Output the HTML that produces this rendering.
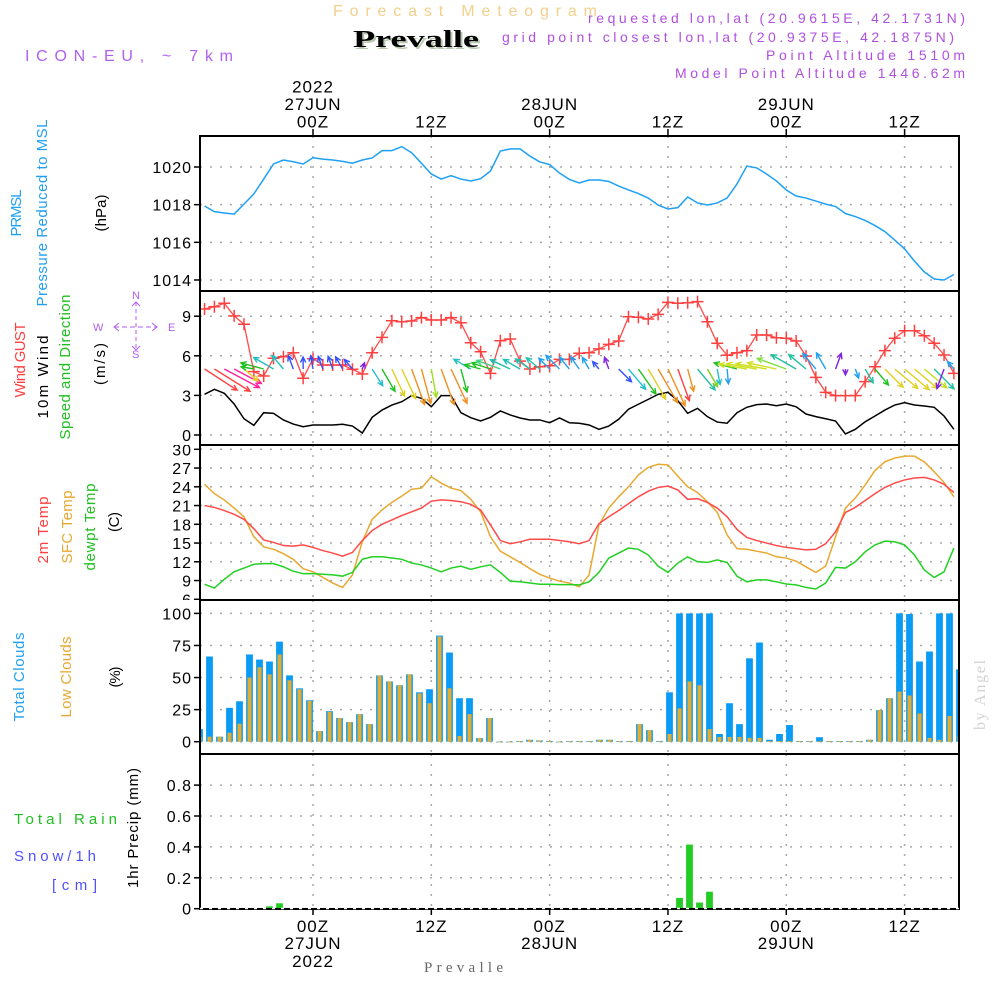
<!DOCTYPE html>
<html><head><meta charset="utf-8"><title>Forecast Meteogram Prevalle</title>
<style>
html,body{margin:0;padding:0;background:#fff;}
svg{display:block;font-family:"Liberation Sans",sans-serif;}
</style></head>
<body>
<svg id="chart" xmlns="http://www.w3.org/2000/svg" width="1000" height="1000" viewBox="0 0 1000 1000">
<defs>
<clipPath id="cpP"><rect x="200" y="136" width="759" height="155"/></clipPath>
<clipPath id="cpW"><rect x="200" y="291" width="759" height="154"/></clipPath>
<clipPath id="cpT"><rect x="200" y="445" width="759" height="155"/></clipPath>
<clipPath id="cpC"><rect x="200" y="600" width="759" height="154"/></clipPath>
<clipPath id="cpR"><rect x="200" y="754" width="759" height="155"/></clipPath>
<clipPath id="cpTL"><rect x="100" y="445" width="100" height="155"/></clipPath>
</defs>
<!-- header -->
<text x="333" y="16" font-size="16" fill="#f3cf8c" textLength="264" lengthAdjust="spacing">Forecast Meteogram</text>
<text x="355" y="49" font-family="Liberation Serif,serif" font-weight="bold" font-size="24" fill="#b8c8b0" textLength="126" lengthAdjust="spacingAndGlyphs">Prevalle</text>
<text x="353" y="47" font-family="Liberation Serif,serif" font-weight="bold" font-size="24" fill="#000" textLength="126" lengthAdjust="spacingAndGlyphs">Prevalle</text>
<text x="25" y="61" font-size="16" fill="#b060f0" textLength="208" lengthAdjust="spacing">ICON-EU, ~ 7km</text>
<text x="965" y="23" font-size="14" fill="#b050e0" text-anchor="end" textLength="377" lengthAdjust="spacing">requested lon,lat (20.9615E, 42.1731N)</text>
<text x="954" y="42" font-size="14" fill="#b050e0" text-anchor="end" textLength="452" lengthAdjust="spacing">grid point closest lon,lat (20.9375E, 42.1875N)</text>
<text x="965" y="60" font-size="14" fill="#b050e0" text-anchor="end" textLength="199" lengthAdjust="spacing">Point Altitude 1510m</text>
<text x="965" y="78" font-size="14" fill="#b050e0" text-anchor="end" textLength="290" lengthAdjust="spacing">Model Point Altitude 1446.62m</text>

<!-- left axis titles -->
<g font-size="15">
<text transform="translate(21,213) rotate(-90)" text-anchor="middle" fill="#20a0f0" textLength="47" lengthAdjust="spacing">PRMSL</text>
<text transform="translate(47,213) rotate(-90)" text-anchor="middle" fill="#20a0f0" textLength="187" lengthAdjust="spacing">Pressure Reduced to MSL</text>
<text transform="translate(106,213) rotate(-90)" text-anchor="middle" fill="#000" textLength="37" lengthAdjust="spacing">(hPa)</text>
<text transform="translate(25,360) rotate(-90)" text-anchor="middle" fill="#ff4040" textLength="75" lengthAdjust="spacing">Wind GUST</text>
<text transform="translate(48,377) rotate(-90)" text-anchor="middle" fill="#000" textLength="83" lengthAdjust="spacing">10m Wind</text>
<text transform="translate(70,367) rotate(-90)" text-anchor="middle" fill="#20c020" textLength="145" lengthAdjust="spacing">Speed and Direction</text>
<text transform="translate(105,364) rotate(-90)" text-anchor="middle" fill="#000" textLength="42" lengthAdjust="spacing">(m/s)</text>
<text transform="translate(48,530) rotate(-90)" text-anchor="middle" fill="#ff4040" textLength="67" lengthAdjust="spacing">2m Temp</text>
<text transform="translate(72,527) rotate(-90)" text-anchor="middle" fill="#e8a830" textLength="73" lengthAdjust="spacing">SFC Temp</text>
<text transform="translate(95,527) rotate(-90)" text-anchor="middle" fill="#20c020" textLength="87" lengthAdjust="spacing">dewpt Temp</text>
<text transform="translate(119,522) rotate(-90)" text-anchor="middle" fill="#000" textLength="20" lengthAdjust="spacing">(C)</text>
<text transform="translate(24,677) rotate(-90)" text-anchor="middle" fill="#20a0f0" textLength="89" lengthAdjust="spacing">Total Clouds</text>
<text transform="translate(71,677) rotate(-90)" text-anchor="middle" fill="#e8a830" textLength="81" lengthAdjust="spacing">Low Clouds</text>
<text transform="translate(120,677) rotate(-90)" text-anchor="middle" fill="#000" textLength="21" lengthAdjust="spacing">(%)</text>
<text transform="translate(138,828) rotate(-90)" text-anchor="middle" fill="#000" textLength="120" lengthAdjust="spacing">1hr Precip (mm)</text>
<text x="14" y="824" fill="#20c020" textLength="103" lengthAdjust="spacing">Total   Rain</text>
<text x="14" y="861" fill="#5050ff" textLength="82" lengthAdjust="spacing">Snow/1h</text>
<text x="52" y="890" fill="#5050ff" textLength="45" lengthAdjust="spacing">[cm]</text>
</g>
<!-- compass -->
<g fill="#b060f0" stroke="#b060f0" font-size="11">
<text x="132" y="299" stroke="none">N</text>
<text x="132" y="358" stroke="none">S</text>
<text x="93" y="331" stroke="none">W</text>
<text x="168" y="331" stroke="none">E</text>
<line x1="114" y1="327" x2="157" y2="327" stroke-dasharray="5,3"/>
<line x1="136" y1="302" x2="136" y2="350" stroke-dasharray="4,3"/>
<polyline points="119,323 114,327 119,331" fill="none"/>
<polyline points="152,323 157,327 152,331" fill="none"/>
<polyline points="132,306 136,302 140,306" fill="none"/>
<polyline points="132,346 136,350 140,346" fill="none"/>
</g>
<text transform="translate(985,730) rotate(-90)" font-family="Liberation Serif,serif" font-size="16" fill="#d0d4d0" textLength="70" lengthAdjust="spacing">by Angel</text>
<text x="424" y="972" font-family="Liberation Serif,serif" font-size="15" fill="#666" textLength="79" lengthAdjust="spacing">Prevalle</text>

<g id="grid"></g>
<g id="marks"></g>
<g id="axes"></g>
</svg>
<script>
// ---------- data (hourly, index 0 = 13Z 26JUN) ----------
const pressure = [1017.93,1017.63,1017.56,1017.5,1018.03,1018.57,1019.36,1020.16,1020.37,1020.28,1020.16,1020.49,1020.42,1020.37,1020.3,1020.2,1020.37,1020.48,1020.87,1020.87,1021.08,1020.76,1020.2,1019.63,1019.36,1019.54,1019.36,1019.26,1019.38,1019.79,1020.85,1020.96,1020.96,1020.58,1020.27,1020.13,1019.68,1019.34,1019.15,1019.31,1019.31,1019.23,1018.99,1018.78,1018.59,1018.35,1017.98,1017.77,1017.84,1018.41,1018.09,1017.98,1018.09,1018.35,1019.1,1020.05,1019.95,1019.63,1019.26,1018.78,1018.46,1018.35,1018.19,1018.03,1017.9,1017.53,1017.37,1017.16,1016.89,1016.57,1016.12,1015.65,1015.0,1014.43,1014.05,1014.0,1014.29];
const wind10 = [3.08,3.46,3.16,2.35,1.23,0.73,1.69,1.64,1.14,0.83,0.63,0.76,0.76,0.76,0.81,0.68,0.15,1.34,1.89,2.27,2.52,2.98,2.78,2.14,2.98,2.98,1.69,1.31,1.06,1.34,1.82,1.52,1.29,1.14,1.14,0.93,1.29,0.93,0.89,0.76,0.43,0.68,1.19,1.95,2.33,2.7,3.08,3.23,2.6,1.64,2.02,1.39,0.98,0.89,1.69,2.1,2.3,2.35,2.22,2.35,2.14,1.59,1.39,1.23,1.06,0.08,0.43,1.0,1.44,1.89,2.27,2.45,2.27,2.2,2.1,1.44,0.43];
const gust = [9.55,9.72,9.98,9.02,8.39,4.8,4.47,5.81,5.93,6.23,4.3,5.78,5.3,5.3,5.3,4.98,4.62,6.23,7.4,8.66,8.58,8.64,8.89,8.71,8.71,8.89,8.5,6.99,6.31,4.67,7.14,7.27,5.6,5.0,5.17,5.25,5.73,5.73,6.19,6.23,6.52,6.87,7.12,8.96,8.92,8.79,9.14,10.05,9.98,10.02,10.1,8.58,6.95,6.04,6.23,6.39,7.58,7.58,7.37,7.33,7.12,5.98,4.37,3.23,2.98,2.98,2.98,4.04,5.17,6.39,7.33,7.9,7.9,7.52,6.95,6.06,4.67];
const windDir = [123,122,118,118,130,280,285,300,320,340,0,350,340,340,330,320,20,148,150,155,155,160,165,170,160,155,165,300,285,288,290,295,300,305,310,315,315,320,325,330,320,340,135,140,145,150,150,155,160,165,140,150,170,175,285,280,280,280,282,290,300,310,320,330,20,180,160,150,140,135,130,130,130,130,135,200,320];
const windColor = ['#ff4040','#ff4040','#ff20a0','#ff20a0','#e8d020','#20c020','#20c020','#20c0c0','#20c0c0','#3050ff','#3050ff','#3050ff','#3050ff','#3050ff','#3050ff','#3050ff','#8020e0','#20c0d0','#20c020','#e0d020','#e0d020','#f09020','#f09020','#a0e020','#f09020','#f09020','#20c020','#20c0c0','#20c020','#20c020','#40d080','#20c0b0','#20c0b0','#20c0b0','#20c0b0','#20a0f0','#20a0f0','#20a0f0','#20a0f0','#20a0f0','#3050ff','#8020e0','#3050ff','#20c0d0','#20c020','#e0d020','#f09020','#f09020','#ff4040','#f09020','#20c0a0','#80d020','#20c0d0','#20a0f0','#20c020','#d0e020','#d0e020','#d0e020','#d0e020','#80e040','#20c0a0','#20c0a0','#20a0f0','#20a0f0','#8020e0','#8020e0','#20a0f0','#20c0a0','#20c020','#e0d020','#e0d020','#e0d020','#e0d020','#c0e020','#20c0a0','#8020e0','#20a0f0'];
const temp2m = [21.0,20.7,20.2,19.6,18.8,17.3,15.5,15.1,14.6,14.5,14.7,14.3,13.8,13.4,12.9,13.5,15.4,17.0,18.0,18.7,19.4,20.0,20.6,21.7,21.9,21.8,21.6,21.2,20.3,17.9,15.4,14.9,15.2,15.6,15.6,15.6,15.4,15.2,14.9,15.4,18.1,19.2,20.2,21.3,22.4,23.3,23.9,24.1,23.5,22.0,22.1,21.5,20.6,19.2,17.2,15.9,15.4,15.0,14.6,14.3,14.1,13.9,14.0,14.9,16.8,19.9,20.7,21.8,22.9,23.9,24.6,25.1,25.4,25.5,25.1,24.4,23.1];
const sfcTemp = [24.4,22.9,21.9,20.6,19.2,16.0,14.4,14.0,13.3,12.4,10.9,10.4,9.5,8.6,7.9,9.9,15.2,18.8,20.3,21.5,22.5,23.6,23.8,25.6,24.6,23.8,23.4,22.0,20.0,16.0,13.7,12.8,11.9,10.9,10.0,9.4,8.9,8.6,8.0,9.9,17.9,20.6,22.4,24.0,25.9,27.1,27.6,27.5,25.7,24.0,23.1,21.6,19.9,16.3,14.1,14.0,13.7,13.4,12.8,12.6,12.1,11.2,10.3,11.3,16.0,20.6,22.2,24.3,26.6,28.0,28.6,28.9,28.9,28.0,26.4,24.7,22.4];
const dewpt = [8.4,7.8,9.2,10.4,11.0,11.6,11.7,11.7,11.2,10.5,10.1,10.1,10.0,9.9,9.7,10.3,12.4,12.8,12.8,12.6,12.4,11.8,11.5,11.0,10.4,11.0,11.3,10.8,11.2,11.5,10.3,8.9,8.8,8.6,8.4,8.4,8.35,8.35,8.3,8.8,10.3,12.6,13.4,14.2,14.0,13.1,11.3,10.3,11.8,12.8,12.0,11.9,12.3,11.9,9.7,8.8,9.1,9.1,8.8,8.45,8.3,7.9,7.65,8.6,11.1,11.0,12.0,13.6,14.7,15.3,15.2,14.7,13.1,10.7,9.5,10.4,14.2];
// cloud bars (index 0 = bar just left of first data hour)
const totalClouds = [9.8,66.4,3.9,26.4,31.5,68,64,62.5,78,51.7,41.6,32.3,8.3,23.8,18.4,15.3,21.5,13.7,51.7,47,44,52.5,38.5,40.9,82.7,69.5,33.9,33.9,2.8,18.4,0,0,0.5,1.5,1,0.5,0,0.5,0.5,0.5,1.5,1.5,0.5,0.5,13.7,9,0.5,38.5,100,100,100,100,6,30,13.7,65,77.3,1.5,6,13,0.5,0.5,3.5,0.5,0.5,0.5,0.5,1.5,24.6,33.9,100,99.5,62.5,70.3,100,100,56.4];
const lowClouds = [3.9,3.9,3.9,7,14,50,58,52.5,68,47.8,40.9,31.8,8.3,23.3,18.4,15.3,21.5,13.7,51.7,47,44,52.5,37.7,30,82,41.6,4.4,21.5,2.8,18.4,0,0,0.5,1.5,1,0.5,0,0.5,0.5,0.5,1.5,1.5,0.5,0.5,13.7,9,0.3,6,26,47,44,9.8,3.7,3.7,3.7,3,3,0.5,0.5,0.5,0.5,0.5,0.3,0.5,0.5,0.5,0.5,1.5,24.6,33.9,39,36,22,3,1.5,20,4.4];
const precipBar = [7,8,48,49,50,51];
const precipVal = [0.015,0.035,0.07,0.415,0.04,0.11];
// ticks
const pTicks = [1014,1016,1018,1020];
const wTicks = [0,3,6,9];
const tTicks = [6,9,12,15,18,21,24,27,30];
const cTicks = [0,25,50,75,100];
const rTicks = [0,0.2,0.4,0.6,0.8];
const rTickLabels = ['0','0.2','0.4','0.6','0.8'];
const timeTicks = [0,12,24,36,48,60];
const timeLabels = ['00Z','12Z','00Z','12Z','00Z','12Z'];
const dateTicks = [0,24,48];
const dateLabels = ['27JUN','28JUN','29JUN'];
const yearLabel = '2022';

// ---------- scales ----------
const X0 = 313, PXH = 9.86;
function xH(h){ return X0 + h*PXH; }
function xI(i){ return xH(i - 11); }
function barX(k){ return 199.5 + 10*k; }
function yP(v){ return 167 + (1020 - v)*18.83; }
function yW(v){ return 435 - v*13.2; }
function yT(v){ return 449.3 + (30 - v)*6.25; }
function yC(v){ return 741.7 - v*1.283; }
function yR(v){ return 908.7 - v*154.5; }

const NS = 'http://www.w3.org/2000/svg';
function mk(tag, attrs, parent){
  const e = document.createElementNS(NS, tag);
  for (const k in attrs) e.setAttribute(k, attrs[k]);
  parent.appendChild(e);
  return e;
}
const grid = document.getElementById('grid');
const marks = document.getElementById('marks');
const axes = document.getElementById('axes');

const panels = [
  {name:'pressure', top:136, bot:291, ticks:pTicks, labels:pTicks.map(String), y:yP, clip:null},
  {name:'wind', top:291, bot:445, ticks:wTicks, labels:wTicks.map(String), y:yW, clip:null},
  {name:'temp', top:445, bot:600, ticks:tTicks, labels:tTicks.map(String), y:yT, clip:'url(#cpTL)'},
  {name:'clouds', top:600, bot:754, ticks:cTicks, labels:cTicks.map(String), y:yC, clip:null},
  {name:'precip', top:754, bot:909, ticks:rTicks, labels:rTickLabels, y:yR, clip:null}
];
panels.forEach(p => {
  // horizontal gridlines
  p.ticks.forEach((t, k) => {
    const yy = p.y(t);
    if (yy > p.top + 2 && yy < p.bot - 2) {
      const g = mk('line', {x1:200, x2:959, y1:yy, y2:yy, stroke:'#a8a8a8', 'stroke-width':1.5, 'stroke-dasharray':'2,8'}, grid);
      
      
    }
  });
  // vertical gridlines
  timeTicks.forEach(h => {
    const g = mk('line', {x1:xH(h), x2:xH(h), y1:p.top, y2:p.bot, stroke:'#a8a8a8', 'stroke-width':1.5, 'stroke-dasharray':'2,8'}, grid);
    
    
  });
  // tick labels
  const lg = mk('g', {}, axes);
  if (p.clip) lg.setAttribute('clip-path', p.clip);
  
  
  p.ticks.forEach((t, k) => {
    const yy = p.y(t);
    const tm = mk('line', {x1:194, x2:200, y1:yy, y2:yy, stroke:'#000', 'stroke-width':1.5}, lg);
    
    
    const tx = mk('text', {x:192, y:yy + 6, 'text-anchor':'end', 'font-size':16, 'letter-spacing':1, fill:'#000'}, lg);
    tx.textContent = p.labels[k];
    
    
  });
});

// ---------- pressure ----------
const pp = mk('polyline', {points: pressure.map((v,i)=>xI(i)+','+yP(v)).join(' '), fill:'none', stroke:'#1ea0f5', 'stroke-width':1.5, 'clip-path':'url(#cpP)'}, marks);



// ---------- wind ----------
const wl = mk('polyline', {points: wind10.map((v,i)=>xI(i)+','+yW(v)).join(' '), fill:'none', stroke:'#000', 'stroke-width':1.5, 'clip-path':'url(#cpW)'}, marks);


const gl = mk('polyline', {points: gust.map((v,i)=>xI(i)+','+yW(v)).join(' '), fill:'none', stroke:'#ff4a4a', 'stroke-width':1.3, 'clip-path':'url(#cpW)'}, marks);


const gm = mk('g', {stroke:'#ff4040', 'stroke-width':1.5, 'clip-path':'url(#cpW)'}, marks);


gust.forEach((v,i) => {
  const x = xI(i), y = yW(v);
  const m = mk('path', {d:`M${x-6},${y}H${x+6}M${x},${y-6}V${y+6}`}, gm);
  
  
});
const ag = mk('g', {'stroke-width':1.4, fill:'none', 'clip-path':'url(#cpW)'}, marks);


windDir.forEach((d,i) => {
  const L = Math.min(42, 5 + 11*wind10[i]);
  const r = d*Math.PI/180;
  const x1 = xI(i), y1 = 369;
  const x2 = x1 + Math.sin(r)*L, y2 = y1 - Math.cos(r)*L;
  const ha = 0.45, hl = 6;
  const bx = -Math.sin(r), by = Math.cos(r);
  const hx1 = x2 + hl*(bx*Math.cos(ha) - by*Math.sin(ha)), hy1 = y2 + hl*(bx*Math.sin(ha) + by*Math.cos(ha));
  const hx2 = x2 + hl*(bx*Math.cos(-ha) - by*Math.sin(-ha)), hy2 = y2 + hl*(bx*Math.sin(-ha) + by*Math.cos(-ha));
  const a = mk('path', {d:`M${x1},${y1}L${x2},${y2}M${hx1},${hy1}L${x2},${y2}L${hx2},${hy2}`, stroke:windColor[i]}, ag);
  
  
});

// ---------- temperature ----------
[[sfcTemp,'#e8a830','sfc-temp-line'],[temp2m,'#ff4a4a','temp-2m-line'],[dewpt,'#22d022','dewpoint-line']].forEach(s => {
  const l = mk('polyline', {points: s[0].map((v,i)=>xI(i)+','+yT(v)).join(' '), fill:'none', stroke:s[1], 'stroke-width':1.5, 'clip-path':'url(#cpT)'}, marks);
  
  
});

// ---------- clouds ----------
const cg = mk('g', {'clip-path':'url(#cpC)'}, marks);


totalClouds.forEach((v,k) => {
  const x = barX(k), y = yC(v);
  const b = mk('rect', {x:x-3.4, y:y, width:6.8, height:Math.max(0.8, yC(0)-y), fill:'#0a9cf5'}, cg);
  
  
  const lv = lowClouds[k], ly = yC(lv);
  const o = mk('rect', {x:x-2, y:ly, width:4, height:Math.max(0.8, yC(0)-ly), fill:'#e6ac30'}, cg);
  
  
});

// ---------- precip ----------
const rg = mk('g', {'clip-path':'url(#cpR)'}, marks);


precipBar.forEach((k,n) => {
  const x = barX(k), y = yR(precipVal[n]);
  const b = mk('rect', {x:x-3.4, y:y, width:6.8, height:yR(0)-y, fill:'#22cc22'}, rg);
  
  
});

// ---------- frames ----------
panels.forEach(p => {
  const f = mk('rect', {x:200, y:p.top, width:759, height:p.bot-p.top, fill:'none', stroke:'#000', 'stroke-width':2}, axes);
  
  
});
const zl = mk('line', {x1:200, x2:959, y1:908.5, y2:908.5, stroke:'#fff', 'stroke-width':1.5, 'stroke-dasharray':'3,6'}, axes);



// ---------- time axis labels ----------
timeTicks.forEach((h,k) => {
  const x = xH(h);
  const t1 = mk('line', {x1:x, x2:x, y1:129, y2:136, stroke:'#000', 'stroke-width':1.5}, axes);
  
  
  const t2 = mk('line', {x1:x, x2:x, y1:909, y2:915, stroke:'#000', 'stroke-width':1.5}, axes);
  
  
  const a = mk('text', {x:x, y:127.3, 'text-anchor':'middle', 'font-size':17, 'letter-spacing':1, fill:'#000'}, axes);
  a.textContent = timeLabels[k];
  
  
  const b = mk('text', {x:x, y:932, 'text-anchor':'middle', 'font-size':17, 'letter-spacing':1, fill:'#000'}, axes);
  b.textContent = timeLabels[k];
  
  
});
dateTicks.forEach((h,k) => {
  const x = xH(h);
  const a = mk('text', {x:x, y:110, 'text-anchor':'middle', 'font-size':17, 'letter-spacing':1, fill:'#000'}, axes);
  a.textContent = dateLabels[k];
  
  
  const b = mk('text', {x:x, y:949, 'text-anchor':'middle', 'font-size':17, 'letter-spacing':1, fill:'#000'}, axes);
  b.textContent = dateLabels[k];
  
  
});
const y1t = mk('text', {x:xH(0), y:92.7, 'text-anchor':'middle', 'font-size':17, 'letter-spacing':1, fill:'#000'}, axes);
y1t.textContent = yearLabel;


const y2t = mk('text', {x:xH(0), y:967, 'text-anchor':'middle', 'font-size':17, 'letter-spacing':1, fill:'#000'}, axes);
y2t.textContent = yearLabel;


</script>
</body></html>
